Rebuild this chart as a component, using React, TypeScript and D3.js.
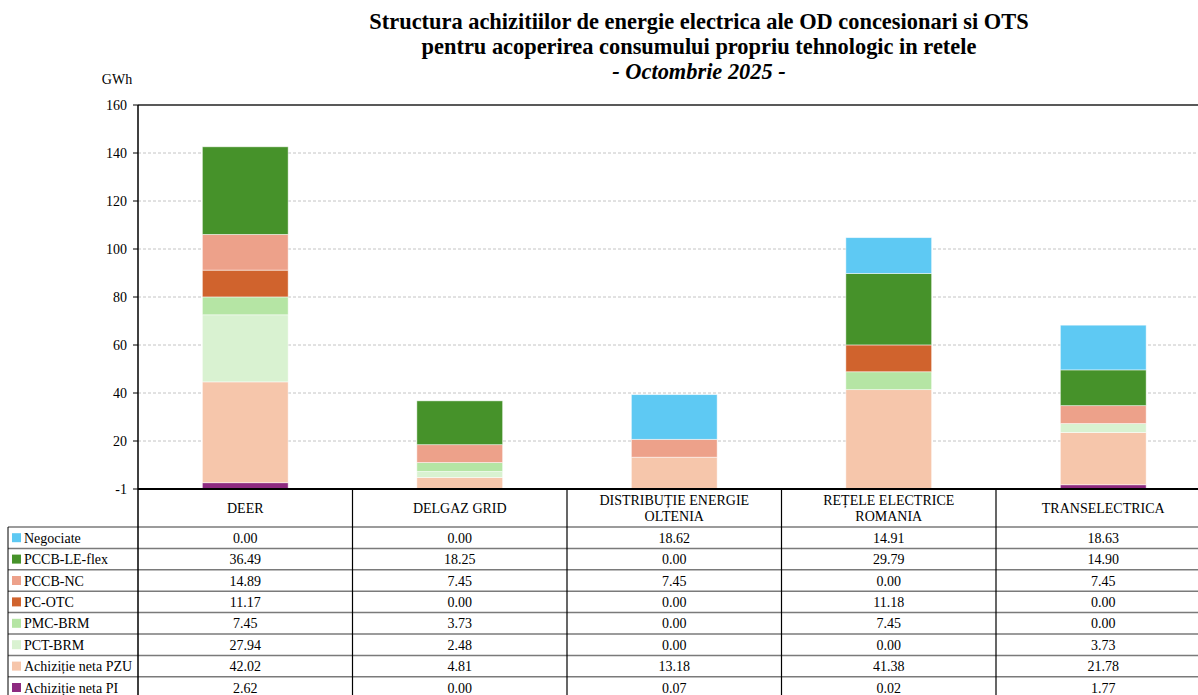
import React from "react";
import * as d3 from "d3";

const categories = [
  ["DEER"],
  ["DELGAZ GRID"],
  ["DISTRIBUȚIE ENERGIE", "OLTENIA"],
  ["REȚELE ELECTRICE", "ROMANIA"],
  ["TRANSELECTRICA"],
];

const seriesNames = [
  "Negociate",
  "PCCB-LE-flex",
  "PCCB-NC",
  "PC-OTC",
  "PMC-BRM",
  "PCT-BRM",
  "Achiziție neta PZU",
  "Achiziție neta PI",
];

const negociate = [0.0, 0.0, 18.62, 14.91, 18.63];
const pccbLeFlex = [36.49, 18.25, 0.0, 29.79, 14.9];
const pccbNc = [14.89, 7.45, 7.45, 0.0, 7.45];
const pcOtc = [11.17, 0.0, 0.0, 11.18, 0.0];
const pmcBrm = [7.45, 3.73, 0.0, 7.45, 0.0];
const pctBrm = [27.94, 2.48, 0.0, 0.0, 3.73];
const pzu = [42.02, 4.81, 13.18, 41.38, 21.78];
const pi = [2.62, 0.0, 0.07, 0.02, 1.77];

const seriesValues = [negociate, pccbLeFlex, pccbNc, pcOtc, pmcBrm, pctBrm, pzu, pi];

const seriesColors = [
  "#5ec9f3",
  "#46922a",
  "#eda18a",
  "#d0632d",
  "#b5e5a4",
  "#d9f2d1",
  "#f6c6ab",
  "#8d2a80",
];

const yTickValues = [0, 20, 40, 60, 80, 100, 120, 140, 160];
const yTickLabels = ["-1", "20", "40", "60", "80", "100", "120", "140", "160"];

const titleLines = [
  "Structura achizitiilor de energie electrica ale OD concesionari si OTS",
  "pentru acoperirea consumului propriu tehnologic in retele",
  "- Octombrie 2025 -",
];

export default function App() {
  const W = 1198;
  const H = 695;
  const left = 138;
  const top = 105;
  const bottom = 489;
  const colW = 214.5;
  const right = left + colW * categories.length;
  const font = "Liberation Serif, DejaVu Serif, serif";

  const x = d3
    .scaleBand<number>()
    .domain(categories.map((_, i) => i))
    .range([left, right])
    .paddingInner(0.6)
    .paddingOuter(0.3);
  const y = d3.scaleLinear().domain([0, 160]).range([bottom, top]);

  const stackOrder = seriesValues.map((_, i) => i).reverse();
  const rows = categories.map((_, ci) => {
    const o: Record<string, number> = {};
    seriesValues.forEach((s, si) => (o["s" + si] = s[ci]));
    return o;
  });
  const stack = d3
    .stack<Record<string, number>>()
    .keys(stackOrder.map((i) => "s" + i));
  const stacked = stack(rows);

  const headerH = 38;
  const rowH = 21.4;
  const tableTop = bottom + headerH;
  const legendLeft = 8;

  return (
    <svg
      width={W}
      height={H}
      style={{ position: "absolute", left: 0, top: 0, background: "#fff", fontFamily: font }}
    >
      <rect x={0} y={0} width={W} height={H} fill="#fff" />
      {titleLines.map((t, i) => (
        <text
          key={i}
          x={699}
          y={29 + i * 25}
          textAnchor="middle"
          fontSize={22.4}
          fontWeight="bold"
          fontStyle={i === 2 ? "italic" : "normal"}
          style={{ fontFamily: font }}
        >
          {t}
        </text>
      ))}
      <text x={117} y={84} textAnchor="middle" fontSize={14} style={{ fontFamily: font }}>
        GWh
      </text>

      {yTickValues.slice(1, -1).map((v) => (
        <line
          key={v}
          x1={left}
          x2={right}
          y1={y(v)}
          y2={y(v)}
          stroke="#c4c4c4"
          strokeWidth={1}
          strokeDasharray="3,2"
        />
      ))}
      <line x1={left} x2={right} y1={y(160)} y2={y(160)} stroke="#222" strokeWidth={1.5} />

      {yTickValues.map((v, i) => (
        <g key={v}>
          <line x1={left - 5} x2={left} y1={y(v)} y2={y(v)} stroke="#000" strokeWidth={1} />
          <text x={127} y={y(v) + 5} textAnchor="end" fontSize={14} style={{ fontFamily: font }}>
            {yTickLabels[i]}
          </text>
        </g>
      ))}

      {stacked.map((layer) => {
        const si = parseInt(layer.key.slice(1), 10);
        return (
          <g key={layer.key} fill={seriesColors[si]}>
            {layer.map((d, ci) =>
              d[1] - d[0] > 0 ? (
                <rect
                  key={ci}
                  x={x(ci)}
                  y={y(d[1])}
                  width={x.bandwidth()}
                  height={y(d[0]) - y(d[1])}
                  stroke="#fff"
                  strokeOpacity={0.6}
                  strokeWidth={0.8}
                />
              ) : null
            )}
          </g>
        );
      })}

      {categories.map((lines, ci) => {
        const cx = left + colW * (ci + 0.5);
        return lines.map((l, li) => (
          <text
            key={ci + "-" + li}
            x={cx}
            y={bottom + headerH / 2 + 5 + (li - (lines.length - 1) / 2) * 16}
            textAnchor="middle"
            fontSize={14}
            style={{ fontFamily: font }}
          >
            {l}
          </text>
        ));
      })}

      {seriesNames.map((name, si) => {
        const ry = tableTop + rowH * si;
        return (
          <g key={name}>
            <rect x={12} y={ry + rowH / 2 - 4.5} width={9} height={9} fill={seriesColors[si]} />
            <text x={24} y={ry + rowH / 2 + 5} fontSize={14} style={{ fontFamily: font }}>
              {name}
            </text>
            {seriesValues[si].map((v, ci) => (
              <text
                key={ci}
                x={left + colW * (ci + 0.5)}
                y={ry + rowH / 2 + 5}
                textAnchor="middle"
                fontSize={14}
                style={{ fontFamily: font }}
              >
                {v.toFixed(2)}
              </text>
            ))}
          </g>
        );
      })}

      {seriesNames.map((_, si) => (
        <line
          key={"h" + si}
          x1={legendLeft}
          x2={right}
          y1={tableTop + rowH * si}
          y2={tableTop + rowH * si}
          stroke="#7a7a7a"
          strokeWidth={1.5}
        />
      ))}
      <line x1={legendLeft} x2={legendLeft} y1={tableTop} y2={H} stroke="#000" strokeWidth={1} />
      {categories.map((_, ci) =>
        ci === 0 ? null : (
          <line
            key={"v" + ci}
            x1={left + colW * ci}
            x2={left + colW * ci}
            y1={bottom}
            y2={H}
            stroke="#000"
            strokeWidth={1.2}
          />
        )
      )}
      <line x1={left} x2={left} y1={top} y2={H} stroke="#000" strokeWidth={1.5} />
      <line x1={left} x2={right} y1={bottom} y2={bottom} stroke="#000" strokeWidth={2} />
    </svg>
  );
}
